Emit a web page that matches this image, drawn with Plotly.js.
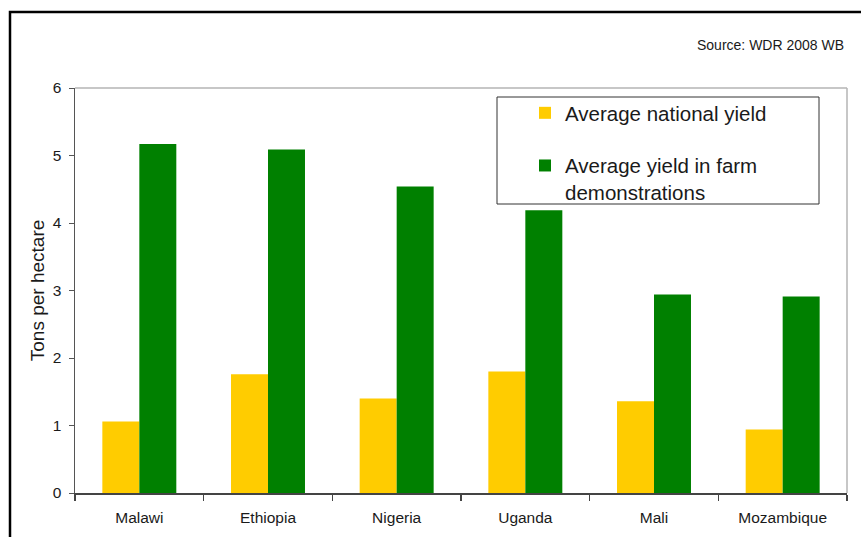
<!DOCTYPE html>
<html>
<head>
<meta charset="utf-8">
<script src="https://cdn.plot.ly/plotly-3.0.1.min.js"></script>
<style>html,body{margin:0;padding:0;background:#fff;}#chart{width:861px;height:537px;}</style>
</head>
<body>
<div id="chart"></div>
<script>
const countries = ["Malawi", "Ethiopia", "Nigeria", "Uganda", "Mali", "Mozambique"];
const nationalYield = [1.06, 1.76, 1.40, 1.80, 1.36, 0.94];
const demoYield = [5.17, 5.09, 4.54, 4.19, 2.94, 2.91];
const seriesNames = ["Average national yield", "Average yield in farm<br>demonstrations"];
const yTicks = [0, 1, 2, 3, 4, 5, 6];

const W = 861, H = 537;
const M = {l: 75, r: 14, t: 88, b: 44};
const PW = W - M.l - M.r, PH = H - M.t - M.b;
const px = x => (x - M.l) / PW;
const py = y => (H - M.b - y) / PH;

const font = "Liberation Sans, Arial, sans-serif";
const txt = "#1a1a1a";

const data = [
  {type: "bar", x: countries, y: nationalYield, name: seriesNames[0],
   marker: {color: "#FFCC00", line: {width: 0}}, legendgroup: "a"},
  {type: "bar", x: countries, y: demoYield, name: seriesNames[1],
   marker: {color: "#008000", line: {width: 0}}, legendgroup: "b"}
];

const layout = {
  width: W, height: H,
  margin: M,
  paper_bgcolor: "#fff", plot_bgcolor: "#fff",
  font: {family: font, color: txt},
  barmode: "group",
  bargap: 0.425, bargroupgap: 0,
  showlegend: true,
  legend: {
    x: px(525), y: py(93), xanchor: "left", yanchor: "top",
    bgcolor: "rgba(0,0,0,0)", borderwidth: 0,
    font: {family: font, size: 20.5, color: txt},
    valign: "top", tracegroupgap: 23, traceorder: "grouped"
  },
  xaxis: {
    type: "category", showgrid: false, zeroline: false,
    showline: true, linecolor: "#444", linewidth: 1.5,
    ticks: "outside", tickson: "boundaries", ticklen: 6, tickcolor: "#444", tickwidth: 1.5,
    ticklabelstandoff: 10,
    tickfont: {family: font, size: 15.5, color: txt},
    fixedrange: true
  },
  yaxis: {
    range: [0, 6], tickvals: yTicks, ticktext: yTicks.map(String),
    showgrid: false, zeroline: false,
    showline: true, linecolor: "#555", linewidth: 1.5,
    ticks: "outside", ticklen: 5, tickcolor: "#555", tickwidth: 1,
    ticklabelstandoff: 4,
    tickfont: {family: font, size: 15.5, color: txt},
    title: {text: "Tons per hectare", font: {family: font, size: 19, color: txt}, standoff: 3},
    fixedrange: true
  },
  shapes: [
    {type: "line", xref: "paper", yref: "paper", x0: 0, x1: 1, y0: 1, y1: 1,
     line: {color: "#b5b5b5", width: 1.5}},
    {type: "line", xref: "paper", yref: "paper", x0: 1, x1: 1, y0: 0, y1: 1,
     line: {color: "#b5b5b5", width: 1.5}},
    {type: "rect", xref: "paper", yref: "paper", x0: px(497), x1: px(819), y0: py(97), y1: py(204),
     line: {color: "#333", width: 1}, fillcolor: "rgba(0,0,0,0)"},
    {type: "path", xref: "paper", yref: "paper",
     path: `M ${px(10)} ${py(560)} L ${px(10)} ${py(12)} L ${px(880)} ${py(12)}`,
     line: {color: "#000", width: 2.5}}
  ],
  annotations: [
    {text: "Source: WDR 2008 WB", xref: "paper", yref: "paper", x: px(846), y: py(45),
     xanchor: "right", yanchor: "middle", showarrow: false,
     font: {family: font, size: 14, color: txt}}
  ]
};

Plotly.newPlot("chart", data, layout, {displayModeBar: false, staticPlot: true});
</script>
</body>
</html>
